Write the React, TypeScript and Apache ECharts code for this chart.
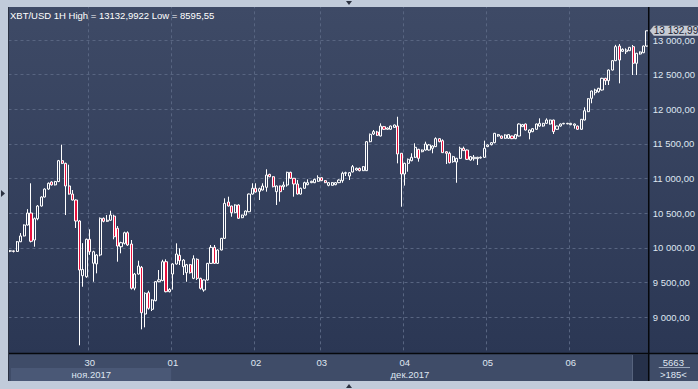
import { useEffect, useRef } from 'react';
import * as echarts from 'echarts';

// [open, close, low, high] per hourly candle, one array per day
const nov29 = [
  [9955, 9958, 9940, 9970], [9958, 9950, 9935, 9965], [9950, 10090, 9945, 10100],
  [10090, 10173, 10085, 10215], [10173, 10331, 10168, 10340], [10331, 10504, 10325, 10560],
  [10504, 10096, 10080, 10933], [10115, 10422, 10018, 10440], [10422, 10605, 10400, 10620],
  [10605, 10735, 10598, 10745], [10735, 10850, 10728, 10860], [10850, 10933, 10840, 10945],
  [10952, 10910, 10900, 10962], [10910, 10958, 10902, 10968], [10958, 11259, 10950, 11270],
  [11259, 11221, 11210, 11490], [11221, 10894, 10475, 11230], [10894, 10778, 10770, 11201],
  [10778, 10692, 10685, 10836], [10692, 10389, 10288, 10700], [10389, 9682, 8595.55, 10400],
  [9600, 9690, 9441, 10070], [9585, 10125, 9570, 10135],
];
const nov30 = [
  [10125, 9946, 9900, 10269], [9780, 9946, 9513, 9960], [9770, 9899, 9634, 9910],
  [9899, 10428, 9880, 10440], [10428, 10385, 10370, 10440], [10385, 10400, 10375, 10475],
  [10400, 10475, 10395, 10537], [10460, 10162, 10125, 10480], [10284, 10028, 9802, 10317],
  [10018, 10076, 9923, 10090], [10067, 10220, 10050, 10235], [10220, 10043, 10030, 10240],
  [10057, 9418, 9400, 10115], [9420, 9624, 9390, 9640], [9624, 9740, 9615, 9816],
  [9720, 9066, 8826, 9740], [9047, 9346, 8855, 9360], [9355, 9130, 9110, 9383],
  [9115, 9250, 9090, 9260], [9240, 9514, 9230, 9520], [9514, 9540, 9505, 9682],
  [9530, 9802, 9520, 9830], [9802, 9369, 9360, 9836], [9369, 9400, 9360, 9420],
];
const dec01 = [
  [9624, 9769, 9400, 9780], [9769, 9913, 9760, 10067], [9894, 9816, 9754, 9995],
  [9730, 9826, 9610, 9840], [9643, 9759, 9513, 9770], [9759, 9643, 9630, 9770],
  [9562, 9845, 9550, 9894], [9836, 9562, 9538, 9850], [9562, 9418, 9400, 9570],
  [9394, 9538, 9369, 9545], [9538, 9778, 9530, 9785], [9778, 10009, 9770, 10043],
  [10009, 9778, 9770, 10043], [9778, 9971, 9770, 9980], [9971, 10139, 9965, 10145],
  [10139, 10644, 10130, 10716], [10663, 10605, 10600, 10740], [10605, 10509, 10451, 10610],
  [10509, 10620, 10500, 10630], [10620, 10428, 10420, 10630], [10437, 10475, 10430, 10480],
  [10475, 10533, 10470, 10540], [10523, 10778, 10515, 10785], [10778, 10861, 10770, 10933],
];
const dec02 = [
  [10861, 10807, 10800, 10933], [10817, 10855, 10692, 10870], [10836, 10894, 10830, 10933],
  [10875, 11052, 10812, 11135], [11062, 11028, 11020, 11070], [11028, 10884, 10875, 11035],
  [10812, 10894, 10620, 10900], [10894, 10812, 10668, 10900], [10884, 10908, 10836, 10956],
  [10908, 11091, 10884, 11100], [11091, 11005, 11000, 11100], [11005, 10923, 10740, 11010],
  [10923, 10778, 10770, 10980], [10778, 10861, 10770, 10870], [10861, 10942, 10855, 10956],
  [10913, 10942, 10905, 10990], [10942, 10962, 10935, 10970], [10942, 10990, 10935, 11000],
  [10962, 11014, 10955, 11048],
];
const dec03 = [
  [11014, 10971, 10965, 11020], [10971, 10942, 10935, 10980], [10904, 10942, 10890, 10950],
  [10904, 10942, 10900, 10950], [10913, 10942, 10905, 10950], [10942, 10980, 10935, 10990],
  [10971, 11077, 10941, 11100], [11077, 11086, 11038, 11100], [11038, 11086, 10980, 11096],
  [11096, 11173, 11090, 11197], [11125, 11149, 11115, 11160], [11149, 11115, 11105, 11160],
  [11115, 11173, 11110, 11180], [11115, 11533, 11110, 11540], [11533, 11640, 11525, 11650],
  [11644, 11678, 11630, 11702], [11673, 11625, 11615, 11690], [11615, 11759, 11610, 11798],
  [11750, 11712, 11705, 11760], [11712, 11730, 11705, 11740], [11712, 11759, 11705, 11765],
  [11740, 11774, 11735, 11780], [11759, 11356, 11221, 11893], [11366, 11067, 10595, 11370],
];
const dec04 = [
  [11067, 11221, 10900, 11230], [11221, 11279, 11100, 11290], [11259, 11308, 11250, 11366],
  [11308, 11452, 11300, 11510], [11423, 11293, 11245, 11430], [11389, 11413, 11380, 11420],
  [11413, 11500, 11405, 11533], [11413, 11486, 11405, 11500], [11438, 11471, 11366, 11480],
  [11462, 11577, 11455, 11596], [11577, 11533, 11525, 11585], [11548, 11375, 11370, 11567],
  [11389, 11366, 11211, 11395], [11366, 11230, 11220, 11389], [11245, 11317, 11230, 11330],
  [11240, 11293, 10941, 11300], [11293, 11438, 11285, 11462], [11438, 11404, 11400, 11462],
  [11413, 11279, 11269, 11420], [11269, 11317, 11260, 11325], [11288, 11308, 11259, 11341],
  [11288, 11308, 11197, 11315], [11298, 11308, 11290, 11320], [11308, 11438, 11300, 11548],
];
const dec05 = [
  [11462, 11486, 11455, 11495], [11490, 11519, 11480, 11525], [11519, 11654, 11510, 11660],
  [11615, 11635, 11605, 11645], [11615, 11582, 11575, 11620], [11582, 11630, 11575, 11640],
  [11582, 11635, 11575, 11640], [11615, 11577, 11570, 11620], [11577, 11635, 11570, 11645],
  [11615, 11788, 11610, 11798], [11750, 11779, 11745, 11790], [11788, 11702, 11695, 11795],
  [11663, 11702, 11567, 11710], [11678, 11721, 11670, 11730], [11712, 11788, 11705, 11795],
  [11759, 11798, 11750, 11870], [11759, 11798, 11750, 11805], [11798, 11846, 11790, 11870],
  [11788, 11846, 11780, 11850], [11846, 11678, 11644, 11850], [11712, 11759, 11705, 11765],
  [11759, 11788, 11750, 11795], [11790, 11798, 11785, 11805], [11790, 11798, 11785, 11805],
];
const dec06 = [
  [11779, 11798, 11770, 11805], [11769, 11788, 11721, 11795], [11759, 11712, 11705, 11765],
  [11712, 11856, 11705, 11860], [11846, 11980, 11840, 12029], [11966, 12153, 11960, 12160],
  [12159, 12264, 12087, 12270], [12240, 12279, 12202, 12298], [12254, 12303, 12240, 12310],
  [12279, 12447, 12270, 12455], [12447, 12413, 12351, 12455], [12413, 12567, 12351, 12575],
  [12567, 12702, 12560, 12710], [12702, 12904, 12695, 12930], [12913, 12711, 12375, 12942],
  [12837, 12865, 12830, 12880], [12832, 12856, 12798, 12880], [12846, 12894, 12840, 12900],
  [12904, 12664, 12495, 12928], [12664, 12808, 12495, 12815], [12798, 12827, 12790, 12835],
  [12817, 12913, 12810, 12920], [12913, 13132.99, 12905, 13132.99],
];

const days = [nov29, nov30, dec01, dec02, dec03, dec04, dec05, dec06];
const dayLabels = ['29', '30', '01', '02', '03', '04', '05', '06'];
const dayMonths = ['11', '11', '12', '12', '12', '12', '12', '12'];
const firstHours = [1, 0, 0, 0, 0, 0, 0, 0];
const monthLabels = ['ноя.2017', 'дек.2017'];
const titleText = 'XBT/USD 1H High = 13132,9922 Low = 8595,55';
const barCountText = '5663';
const visibleText = '>185<';
const yMin = 8500;
const yMax = 13500;
const yStep = 500;

const FONT = "'Liberation Sans', Arial, sans-serif";
const LABEL = '#dfe6f1';

const fmtPrice = (v: number) => {
  const [i, d] = v.toFixed(2).split('.');
  return i.replace(/\B(?=(\d{3})+(?!\d))/g, ' ') + ',' + d;
};

export default function App() {
  const ref = useRef<HTMLDivElement>(null);
  useEffect(() => {
    const el = ref.current;
    if (!el) return;
    const chart = echarts.init(el, null, { renderer: 'svg' });
    const candles = days.flat();
    const categories: string[] = [];
    days.forEach((d, k) =>
      d.forEach((_, j) => {
        const h = firstHours[k] + j;
        categories.push(`${dayLabels[k]}.${dayMonths[k]} ${String(h).padStart(2, '0')}:00`);
      })
    );
    const isDayStart = (_i: number, v: string) => v.endsWith(' 00:00');

    chart.setOption({
      animation: false,
      backgroundColor: '#c1cbda',
      title: {
        text: titleText,
        left: 10,
        top: 10,
        padding: 0,
        textStyle: { color: '#ffffff', fontSize: 9.5, fontWeight: 'normal', fontFamily: FONT },
      },
      grid: { left: 8.5, right: 42, top: 5.34, bottom: 37.04 },
      xAxis: {
        type: 'category',
        data: categories,
        axisLine: { show: false },
        axisTick: { show: false },
        axisLabel: {
          interval: isDayStart,
          formatter: (v: string) => v.slice(0, 2),
          color: LABEL,
          fontSize: 9.5,
          fontFamily: FONT,
          margin: 6,
        },
        splitLine: {
          show: true,
          interval: isDayStart,
          lineStyle: { color: '#586581', type: [3, 3], width: 1 },
        },
      },
      yAxis: {
        type: 'value',
        position: 'right',
        min: yMin,
        max: yMax,
        interval: yStep,
        axisLine: { show: false },
        axisTick: { show: false },
        axisLabel: {
          color: LABEL,
          fontSize: 9.5,
          lineHeight: 9,
          fontFamily: FONT,
          margin: 4,
          formatter: (v: number) => (v > yMin && v < yMax ? fmtPrice(v) : ''),
        },
        splitLine: {
          show: true,
          showMinLine: false,
          showMaxLine: false,
          lineStyle: { color: '#586581', type: [3, 3], width: 1 },
        },
      },
      series: [
        {
          type: 'candlestick',
          data: candles,
          barWidth: 2.6,
          itemStyle: {
            color: 'transparent',
            color0: '#e8103c',
            borderColor: '#ffffff',
            borderColor0: '#ffffff',
            borderWidth: 1,
          },
        },
      ],
    });

    const lastClose = candles[candles.length - 1][1];
    const tagY = chart.convertToPixel({ yAxisIndex: 0 }, lastClose) as number;
    const c0 = chart.convertToPixel({ xAxisIndex: 0 }, 0) as number;
    const c1 = chart.convertToPixel({ xAxisIndex: 0 }, 1) as number;
    const band = c1 - c0;
    const decStart = nov29.length + nov30.length;
    const left = c0 - band / 2;
    const novEnd = (chart.convertToPixel({ xAxisIndex: 0 }, decStart) as number) - band / 2;
    const right = (chart.convertToPixel({ xAxisIndex: 0 }, candles.length - 1) as number) + band / 2;

    const txt = (
      id: string, x: number, y: number, text: string,
      fill = LABEL, align = 'center', size = 9.5, lh = 10,
    ) => ({
      type: 'text',
      id,
      z: 12,
      x,
      y,
      silent: true,
      style: {
        text,
        fill,
        font: `${size}px ${FONT}`,
        lineHeight: lh,
        align,
        textAlign: align,
        verticalAlign: 'middle',
        textVerticalAlign: 'middle',
      },
    });

    chart.setOption({
      graphic: [
        {
          type: 'rect', id: 'bg', z: -10, silent: true,
          shape: { x: 8, y: 7, width: 690, height: 347 },
          style: {
            fill: {
              type: 'linear', x: 0, y: 0, x2: 0, y2: 1,
              colorStops: [
                { offset: 0, color: '#3e4a66' },
                { offset: 1, color: '#2b3754' },
              ],
            },
          },
        },
        {
          type: 'rect', id: 'band', z: -10, silent: true,
          shape: { x: 8, y: 354, width: 690, height: 27 },
          style: { fill: '#3f4c68' },
        },
        {
          type: 'rect', id: 'novband', z: -9, silent: true,
          shape: { x: left + 2.5, y: 368, width: novEnd - left - 2.5, height: 13 },
          style: { fill: '#4a5876' },
        },
        {
          type: 'rect', id: 'sq', z: -9, silent: true,
          shape: { x: 632.5, y: 354.5, width: right - 632.5, height: 26.5 },
          style: { fill: '#26314a' },
        },
        {
          type: 'line', id: 'sqedge', z: -8, silent: true,
          shape: { x1: 632.5, y1: 355, x2: 632.5, y2: 381 },
          style: { stroke: '#56637d', lineWidth: 1 },
        },
        {
          type: 'line', id: 'hline', z: 20, silent: true,
          shape: { x1: 8, y1: 353.5, x2: 698, y2: 353.5 },
          style: { stroke: '#06080c', lineWidth: 1.5 },
        },
        {
          type: 'line', id: 'vline', z: 20, silent: true,
          shape: { x1: right, y1: 7, x2: right, y2: 381 },
          style: { stroke: '#06080c', lineWidth: 1.5 },
        },
        {
          type: 'line', id: 'ledge', z: 20, silent: true,
          shape: { x1: 8.5, y1: 7, x2: 8.5, y2: 381 },
          style: { stroke: '#2a3142', lineWidth: 1 },
        },
        txt('nov', (left + novEnd) / 2 + 1.5, 374, monthLabels[0]),
        txt('dec', (novEnd + right) / 2, 374, monthLabels[1]),
        txt('count', (right + 698) / 2, 362, barCountText, LABEL, 'center', 9.5, 8),
        {
          type: 'line', id: 'countline', z: 12, silent: true,
          shape: { x1: right + 10, y1: 367.5, x2: 690, y2: 367.5 },
          style: { stroke: '#9ba7bb', lineWidth: 1 },
        },
        txt('visible', (right + 698) / 2, 374, visibleText, LABEL, 'center', 9.5, 8),
        { type: 'rect', id: 'bt', z: 30, silent: true, shape: { x: 0, y: 0, width: 698, height: 7 }, style: { fill: '#c1cbda' } },
        { type: 'rect', id: 'bl', z: 30, silent: true, shape: { x: 0, y: 0, width: 8, height: 389 }, style: { fill: '#c1cbda' } },
        { type: 'rect', id: 'bb', z: 30, silent: true, shape: { x: 0, y: 381, width: 698, height: 8 }, style: { fill: '#c1cbda' } },
        {
          type: 'polygon', id: 'tri1', z: 31, silent: true,
          shape: { points: [[346, 1], [352, 1], [349, 5]] },
          style: { fill: '#2b3140' },
        },
        {
          type: 'polygon', id: 'tri2', z: 31, silent: true,
          shape: { points: [[346, 388], [352, 388], [349, 384]] },
          style: { fill: '#2b3140' },
        },
        {
          type: 'polygon', id: 'tri3', z: 31, silent: true,
          shape: { points: [[1, 190], [1, 197], [5, 193.5]] },
          style: { fill: '#2b3140' },
        },
        {
          type: 'polygon', id: 'tag', z: 25, silent: true,
          shape: {
            points: [
              [right + 1, tagY],
              [right + 5, tagY - 5],
              [698, tagY - 5],
              [698, tagY + 5],
              [right + 5, tagY + 5],
            ],
          },
          style: { fill: '#c6cbd4' },
        },
        { ...txt('tagtext', right + 5, tagY - 0.5, fmtPrice(lastClose), '#1b2232', 'left', 10, 7), z: 26 },
      ],
    });

    return () => chart.dispose();
  }, []);
  return <div ref={ref} style={{ position: 'absolute', left: 0, top: 0, width: 698, height: 389 }} />;
}
